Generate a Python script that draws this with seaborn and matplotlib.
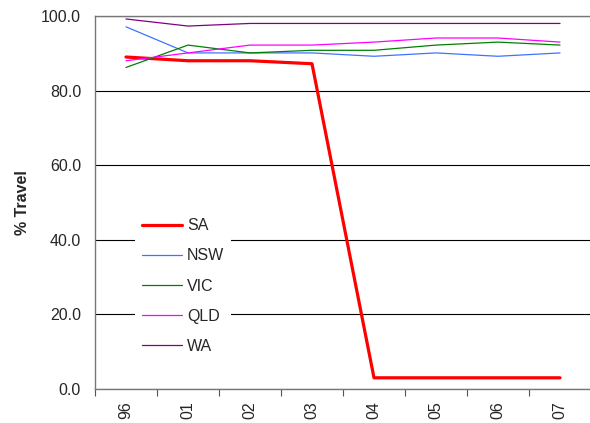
import matplotlib
matplotlib.use("Agg")
import matplotlib.pyplot as plt
import seaborn as sns
import pandas as pd
import numpy as np

years = ["96", "01", "02", "03", "04", "05", "06", "07"]
SA = [89.0, 88.0, 88.0, 87.2, 3.0, 3.0, 3.0, 3.0]
NSW = [97.1, 90.1, 90.1, 90.1, 89.2, 90.1, 89.2, 90.1]
VIC = [86.2, 92.2, 90.1, 90.8, 90.8, 92.2, 93.0, 92.2]
QLD = [88.0, 90.1, 92.2, 92.2, 93.0, 94.1, 94.1, 93.0]
WA = [99.2, 97.3, 98.0, 98.0, 98.0, 98.0, 98.0, 98.0]

series = {"SA": SA, "NSW": NSW, "VIC": VIC, "QLD": QLD, "WA": WA}
colors = {"SA": "#FF0000", "NSW": "#3F73FF", "VIC": "#008000", "QLD": "#FF00FF", "WA": "#800080"}
widths = {"SA": 2.3, "NSW": 0.9, "VIC": 0.9, "QLD": 0.9, "WA": 0.9}

rows = []
for name, vals in series.items():
    for i, v in enumerate(vals):
        rows.append({"idx": i, "year": years[i], "value": v, "state": name})
df = pd.DataFrame(rows)

sns.set_style("white")
plt.rcParams['font.family'] = ['Liberation Sans', 'DejaVu Sans']
FS = 11.5

fig = plt.figure(figsize=(5.9, 4.23), dpi=100)
ax = fig.add_axes([0.161, 0.0804, 0.8407, 0.8818])

for name in series:
    sub = df[df.state == name]
    sns.lineplot(data=sub, x="idx", y="value", ax=ax, color=colors[name],
                 linewidth=widths[name], label=name, estimator=None, sort=False)

ax.set_xlim(-0.5, len(years) - 0.5)
ax.set_ylim(0, 100)
ax.set_yticks(np.arange(0, 101, 20))
ax.set_yticklabels([f"{v:.1f}" for v in np.arange(0, 101, 20)], fontsize=FS)
ax.yaxis.grid(True, color="black", linewidth=0.8)
ax.xaxis.grid(False)
ax.set_axisbelow(True)

ax.set_xticks(np.arange(-0.5, len(years), 1.0))
ax.set_xticklabels([])
ax.set_xticks(np.arange(len(years)), minor=True)
ax.set_xticklabels(years, minor=True, rotation=90, fontsize=FS)
ax.tick_params(axis="x", which="major", direction="out", length=5, width=0.8, color="#555555", bottom=True)
ax.tick_params(axis="x", which="minor", length=0, pad=9, bottom=True)
ax.tick_params(axis="y", direction="out", length=0, left=True, pad=10)

ax.set_xlabel("")
ax.set_ylabel("% Travel", fontsize=FS, fontweight="bold")
ax.yaxis.set_label_coords(-(95 - 30) / 496, 0.5)

for s in ["left", "bottom", "top"]:
    ax.spines[s].set_color("#777777")
    ax.spines[s].set_linewidth(1.0)
ax.spines["right"].set_visible(False)

leg = ax.legend(loc="upper left", bbox_to_anchor=(135 / 590, 1 - 211 / 423),
                bbox_transform=fig.transFigure, frameon=True, fontsize=FS,
                handlelength=2.5, handletextpad=0.3, labelspacing=0.95,
                borderpad=0.45, borderaxespad=0)
leg.get_frame().set_facecolor("white")
leg.get_frame().set_edgecolor("none")
leg.get_frame().set_alpha(1)
leg.get_frame().set_boxstyle("square", pad=0)

fig.savefig("out.png", dpi=100)
